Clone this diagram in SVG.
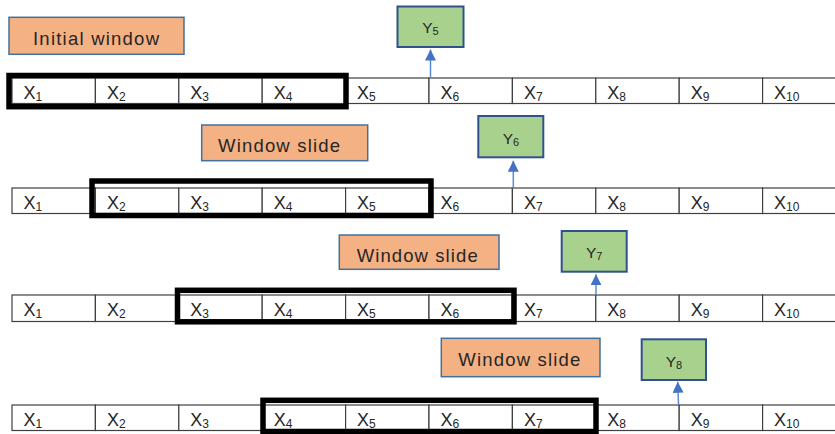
<svg xmlns="http://www.w3.org/2000/svg" width="835" height="434" viewBox="0 0 835 434">
<defs>
<marker id="ah" markerUnits="userSpaceOnUse" markerWidth="11" markerHeight="11" refX="11" refY="5.5" orient="auto">
<path d="M0,0 L11,5.5 L0,11 z" fill="#4472C4"/>
</marker>
</defs>
<style>
.cell{fill:#fff;stroke:#404040;stroke-width:1.2}
.win{fill:none;stroke:#000;stroke-width:5.5}
.lab{fill:#F4B183;stroke:#41719C;stroke-width:1.5}
.yb{fill:#A9D18E;stroke:#2F528F;stroke-width:2}
.x{font-family:"Liberation Sans",Arial,sans-serif;font-size:18px;fill:#262626}
.sub{font-size:12px}
.lt{font-family:"Liberation Sans",Arial,sans-serif;font-size:18.5px;fill:#262626}
.yt{font-family:"Liberation Sans",Arial,sans-serif;font-size:15.5px;fill:#262626;text-anchor:middle}
.ys{font-size:11px}
.arr{stroke:#5B8BD6;stroke-width:1.5;fill:none}
</style>
<rect width="835" height="434" fill="#fff"/>

<g id="row1">
<rect class="cell" x="12" y="78" width="83.4" height="25.5"/><rect class="cell" x="95.4" y="78" width="83.4" height="25.5"/><rect class="cell" x="178.8" y="78" width="83.4" height="25.5"/><rect class="cell" x="262.2" y="78" width="83.4" height="25.5"/><rect class="cell" x="345.6" y="78" width="83.4" height="25.5"/><rect class="cell" x="429" y="78" width="83.4" height="25.5"/><rect class="cell" x="512.4" y="78" width="83.4" height="25.5"/><rect class="cell" x="595.8" y="78" width="83.4" height="25.5"/><rect class="cell" x="679.2" y="78" width="83.4" height="25.5"/><rect class="cell" x="762.6" y="78" width="83.4" height="25.5"/>
<text class="x" x="23.5" y="98.5">X<tspan class="sub" dy="2">1</tspan></text>
<text class="x" x="106.9" y="98.5">X<tspan class="sub" dy="2">2</tspan></text>
<text class="x" x="190.3" y="98.5">X<tspan class="sub" dy="2">3</tspan></text>
<text class="x" x="273.7" y="98.5">X<tspan class="sub" dy="2">4</tspan></text>
<text class="x" x="357.1" y="98.5">X<tspan class="sub" dy="2">5</tspan></text>
<text class="x" x="440.5" y="98.5">X<tspan class="sub" dy="2">6</tspan></text>
<text class="x" x="523.9" y="98.5">X<tspan class="sub" dy="2">7</tspan></text>
<text class="x" x="607.3" y="98.5">X<tspan class="sub" dy="2">8</tspan></text>
<text class="x" x="690.7" y="98.5">X<tspan class="sub" dy="2">9</tspan></text>
<text class="x" x="774.1" y="98.5">X<tspan class="sub" dy="2">10</tspan></text>
</g>
<g id="window1"><rect class="win" x="9" y="75.5" width="337" height="31.2"/></g>

<g id="row2">
<rect class="cell" x="12" y="188" width="83.4" height="25.5"/><rect class="cell" x="95.4" y="188" width="83.4" height="25.5"/><rect class="cell" x="178.8" y="188" width="83.4" height="25.5"/><rect class="cell" x="262.2" y="188" width="83.4" height="25.5"/><rect class="cell" x="345.6" y="188" width="83.4" height="25.5"/><rect class="cell" x="429" y="188" width="83.4" height="25.5"/><rect class="cell" x="512.4" y="188" width="83.4" height="25.5"/><rect class="cell" x="595.8" y="188" width="83.4" height="25.5"/><rect class="cell" x="679.2" y="188" width="83.4" height="25.5"/><rect class="cell" x="762.6" y="188" width="83.4" height="25.5"/>
<text class="x" x="23.5" y="208.5">X<tspan class="sub" dy="2">1</tspan></text>
<text class="x" x="106.9" y="208.5">X<tspan class="sub" dy="2">2</tspan></text>
<text class="x" x="190.3" y="208.5">X<tspan class="sub" dy="2">3</tspan></text>
<text class="x" x="273.7" y="208.5">X<tspan class="sub" dy="2">4</tspan></text>
<text class="x" x="357.1" y="208.5">X<tspan class="sub" dy="2">5</tspan></text>
<text class="x" x="440.5" y="208.5">X<tspan class="sub" dy="2">6</tspan></text>
<text class="x" x="523.9" y="208.5">X<tspan class="sub" dy="2">7</tspan></text>
<text class="x" x="607.3" y="208.5">X<tspan class="sub" dy="2">8</tspan></text>
<text class="x" x="690.7" y="208.5">X<tspan class="sub" dy="2">9</tspan></text>
<text class="x" x="774.1" y="208.5">X<tspan class="sub" dy="2">10</tspan></text>
</g>
<g id="window2"><rect class="win" x="92" y="181" width="339" height="34.5"/></g>

<g id="row3">
<rect class="cell" x="12" y="295" width="83.4" height="26.5"/><rect class="cell" x="95.4" y="295" width="83.4" height="26.5"/><rect class="cell" x="178.8" y="295" width="83.4" height="26.5"/><rect class="cell" x="262.2" y="295" width="83.4" height="26.5"/><rect class="cell" x="345.6" y="295" width="83.4" height="26.5"/><rect class="cell" x="429" y="295" width="83.4" height="26.5"/><rect class="cell" x="512.4" y="295" width="83.4" height="26.5"/><rect class="cell" x="595.8" y="295" width="83.4" height="26.5"/><rect class="cell" x="679.2" y="295" width="83.4" height="26.5"/><rect class="cell" x="762.6" y="295" width="83.4" height="26.5"/>
<text class="x" x="23.5" y="316">X<tspan class="sub" dy="2">1</tspan></text>
<text class="x" x="106.9" y="316">X<tspan class="sub" dy="2">2</tspan></text>
<text class="x" x="190.3" y="316">X<tspan class="sub" dy="2">3</tspan></text>
<text class="x" x="273.7" y="316">X<tspan class="sub" dy="2">4</tspan></text>
<text class="x" x="357.1" y="316">X<tspan class="sub" dy="2">5</tspan></text>
<text class="x" x="440.5" y="316">X<tspan class="sub" dy="2">6</tspan></text>
<text class="x" x="523.9" y="316">X<tspan class="sub" dy="2">7</tspan></text>
<text class="x" x="607.3" y="316">X<tspan class="sub" dy="2">8</tspan></text>
<text class="x" x="690.7" y="316">X<tspan class="sub" dy="2">9</tspan></text>
<text class="x" x="774.1" y="316">X<tspan class="sub" dy="2">10</tspan></text>
</g>
<g id="window3"><rect class="win" x="177.5" y="290.3" width="336.5" height="31.5"/></g>

<g id="row4">
<rect class="cell" x="12" y="405" width="83.4" height="25.5"/><rect class="cell" x="95.4" y="405" width="83.4" height="25.5"/><rect class="cell" x="178.8" y="405" width="83.4" height="25.5"/><rect class="cell" x="262.2" y="405" width="83.4" height="25.5"/><rect class="cell" x="345.6" y="405" width="83.4" height="25.5"/><rect class="cell" x="429" y="405" width="83.4" height="25.5"/><rect class="cell" x="512.4" y="405" width="83.4" height="25.5"/><rect class="cell" x="595.8" y="405" width="83.4" height="25.5"/><rect class="cell" x="679.2" y="405" width="83.4" height="25.5"/><rect class="cell" x="762.6" y="405" width="83.4" height="25.5"/>
<text class="x" x="23.5" y="425.5">X<tspan class="sub" dy="2">1</tspan></text>
<text class="x" x="106.9" y="425.5">X<tspan class="sub" dy="2">2</tspan></text>
<text class="x" x="190.3" y="425.5">X<tspan class="sub" dy="2">3</tspan></text>
<text class="x" x="273.7" y="425.5">X<tspan class="sub" dy="2">4</tspan></text>
<text class="x" x="357.1" y="425.5">X<tspan class="sub" dy="2">5</tspan></text>
<text class="x" x="440.5" y="425.5">X<tspan class="sub" dy="2">6</tspan></text>
<text class="x" x="523.9" y="425.5">X<tspan class="sub" dy="2">7</tspan></text>
<text class="x" x="607.3" y="425.5">X<tspan class="sub" dy="2">8</tspan></text>
<text class="x" x="690.7" y="425.5">X<tspan class="sub" dy="2">9</tspan></text>
<text class="x" x="774.1" y="425.5">X<tspan class="sub" dy="2">10</tspan></text>
</g>
<g id="window4"><rect class="win" x="263" y="400.3" width="333" height="31.2"/></g>

<g id="label1"><rect class="lab" x="9" y="17.3" width="175" height="37"/><text class="lt" x="33" y="45" textLength="126" lengthAdjust="spacing">Initial window</text></g>
<g id="label2"><rect class="lab" x="201.7" y="125" width="166" height="35.7"/><text class="lt" x="218" y="151.5" textLength="122" lengthAdjust="spacing">Window slide</text></g>
<g id="label3"><rect class="lab" x="339.3" y="235" width="159.7" height="34.3"/><text class="lt" x="356.7" y="261.5" textLength="121" lengthAdjust="spacing">Window slide</text></g>
<g id="label4"><rect class="lab" x="441.3" y="338.3" width="158.7" height="38.4"/><text class="lt" x="458.3" y="365.5" textLength="122" lengthAdjust="spacing">Window slide</text></g>

<g id="y5"><rect class="yb" x="397.5" y="6.5" width="66" height="40.5"/><text class="yt" x="430.5" y="33.3">Y<tspan class="ys" dy="2">5</tspan></text></g>
<g id="y6"><rect class="yb" x="478.3" y="116" width="65" height="41.3"/><text class="yt" x="511" y="144">Y<tspan class="ys" dy="2">6</tspan></text></g>
<g id="y7"><rect class="yb" x="561.7" y="231" width="65" height="40.7"/><text class="yt" x="594.2" y="257.8">Y<tspan class="ys" dy="2">7</tspan></text></g>
<g id="y8"><rect class="yb" x="641.7" y="339.3" width="64.3" height="40.7"/><text class="yt" x="674" y="366.5">Y<tspan class="ys" dy="2">8</tspan></text></g>

<g id="connectors">
<line class="arr" x1="430.5" y1="78" x2="430.5" y2="49.5" marker-end="url(#ah)"/>
<line class="arr" x1="513.3" y1="188" x2="513.3" y2="160.7" marker-end="url(#ah)"/>
<line class="arr" x1="596" y1="295" x2="596" y2="274.3" marker-end="url(#ah)"/>
<line class="arr" x1="678.5" y1="405" x2="677.7" y2="381.7" marker-end="url(#ah)"/>
</g>
</svg>
